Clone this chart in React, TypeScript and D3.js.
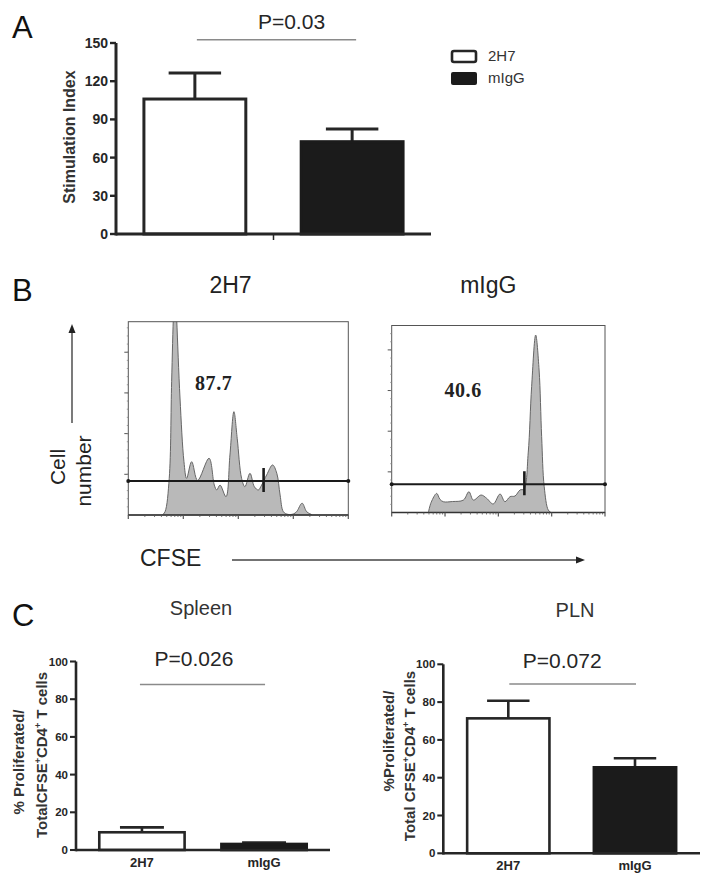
import React from "react";
import * as d3 from "d3";

// ---------- data ----------
const groups = ["2H7", "mIgG"];

// Panel A: stimulation index
const stimMean = [106, 72.5];
const stimSem = [20.5, 10];
const stimTicks = [0, 30, 60, 90, 120, 150];

// Panel C: % proliferated
const spleenMean = [9.4, 3.2];
const spleenSem = [2.6, 0.7];
const plnMean = [71.4, 45.5];
const plnSem = [9.3, 4.8];
const pctTicks = [0, 20, 40, 60, 80, 100];

// Panel B: CFSE histograms (channel 0-100, count in arbitrary units)
const hist2H7X = [15.5, 16.7, 18.6, 19.7, 20.6, 21.3, 22.0, 23.5, 25.3, 26.5, 28.8, 31.5, 36.7, 39.1, 40.2, 41.7, 44.4, 46.2, 48.0, 49.5, 51.5, 53.0, 55.3, 57.3, 59.1, 60.6, 62.9, 65.6, 67.5, 69.0, 70.5, 72.6, 75.0, 76.5, 79.0, 81.1, 83.4];
const hist2H7Y = [0, 1.6, 18.0, 65.5, 100, 112, 96, 57.5, 26.2, 18.0, 26.2, 17.0, 27.9, 14.7, 12.3, 14.7, 9.0, 29.5, 50.8, 37.7, 18.0, 13.9, 20.5, 13.9, 12.3, 14.7, 19.7, 24.6, 20.5, 9.8, 1.6, 0.3, 0.5, 1.6, 5.8, 1.6, 0.2];
const histMIgGX = [17.2, 18.5, 21.1, 22.6, 24.2, 28.5, 33.6, 36.2, 38.3, 41.9, 44.5, 47.6, 50.8, 53.1, 55.5, 57.8, 60.2, 62.0, 64.0, 65.6, 67.5, 69.1, 70.3, 71.5, 73.4, 74.7];
const histMIgGY = [0, 5, 9.4, 6.5, 5.3, 5.4, 6.1, 10.2, 6.1, 8.6, 7.0, 4.2, 9.1, 5.3, 7.8, 8.1, 11.1, 11.5, 29.3, 61.9, 87.3, 70.1, 37.3, 12.7, 1.2, 0];
const histYTicks = [20, 40, 60, 80];
const gateLevels = [16.7, 13.9];
const gateMarkers = [61.5, 62.2];
const gateLabels = ["87.7", "40.6"];

const pValues = ["P=0.03", "P=0.026", "P=0.072"];

// ---------- style ----------
const FONT = '"Liberation Sans", Arial, Helvetica, sans-serif';
const SERIF = '"Liberation Serif", "Times New Roman", serif';
const INK = "#262626";
const BLACK = "#1b1b1b";
const PLINE = "#8a8a8a";

type BarProps = {
  means: number[];
  sems: number[];
  ticks: number[];
  xRange: [number, number];
  yRange: [number, number];
  pi: number;
  po: number;
  sw: number;
  tickFont: number;
  xLabels: boolean;
  midTick: boolean;
  pText: string;
  pLineVal: number;
  pTextVal: number;
  pTextDx: number;
  pLineDx: [number, number];
};

function BarChart(p: BarProps) {
  const x = d3.scaleBand<string>().domain(groups).range(p.xRange).paddingInner(p.pi).paddingOuter(p.po);
  const yMax = p.ticks[p.ticks.length - 1];
  const y = d3.scaleLinear().domain([0, yMax]).range(p.yRange);
  const bw = x.bandwidth();
  const ax = p.xRange[0];
  const c0 = (x(groups[0]) as number) + bw / 2;
  const c1 = (x(groups[1]) as number) + bw / 2;
  return (
    <g>
      {groups.map((g, i) => {
        const bx = x(g) as number;
        const top = y(p.means[i]);
        const eTop = y(p.means[i] + p.sems[i]);
        const cx = bx + bw / 2;
        return (
          <g key={g}>
            <line x1={cx} x2={cx} y1={top} y2={eTop} stroke={INK} strokeWidth={p.sw} />
            <line x1={cx - bw * 0.25} x2={cx + bw * 0.25} y1={eTop} y2={eTop} stroke={INK} strokeWidth={p.sw} />
            <rect
              x={bx + p.sw / 2}
              y={top}
              width={bw - p.sw}
              height={y(0) - top}
              fill={i === 0 ? "#fff" : BLACK}
              stroke={i === 0 ? INK : BLACK}
              strokeWidth={p.sw}
            />
          </g>
        );
      })}
      <line x1={ax} x2={ax} y1={y(0) + p.sw / 2} y2={y(yMax)} stroke={INK} strokeWidth={p.sw} />
      <line x1={ax} x2={p.xRange[1]} y1={y(0)} y2={y(0)} stroke={INK} strokeWidth={p.sw} />
      {p.ticks.map((t) => (
        <g key={t}>
          <line x1={ax - 6} x2={ax} y1={y(t)} y2={y(t)} stroke={INK} strokeWidth={p.sw * 0.8} />
          <text
            x={ax - 8}
            y={y(t)}
            dy="0.36em"
            textAnchor="end"
            fontSize={p.tickFont}
            fontWeight="bold"
            fill={INK}
          >
            {t}
          </text>
        </g>
      ))}
      {p.midTick && (
        <line x1={(c0 + c1) / 2} x2={(c0 + c1) / 2} y1={y(0)} y2={y(0) + 6} stroke={INK} strokeWidth={1.5} />
      )}
      {p.xLabels &&
        groups.map((g) => (
          <text
            key={g}
            x={(x(g) as number) + bw / 2}
            y={y(0) + 17}
            textAnchor="middle"
            fontSize={13}
            fontWeight="bold"
            fill={INK}
          >
            {g}
          </text>
        ))}
      <line
        x1={c0 + p.pLineDx[0]}
        x2={c1 + p.pLineDx[1]}
        y1={y(p.pLineVal)}
        y2={y(p.pLineVal)}
        stroke={PLINE}
        strokeWidth={1.6}
      />
      <text x={(c0 + c1) / 2 + p.pTextDx} y={y(p.pTextVal)} textAnchor="middle" fontSize={21} fill={INK}>
        {p.pText}
      </text>
    </g>
  );
}

type HistProps = {
  box: [number, number, number, number]; // x0, x1, yTop, yBottom
  xs: number[];
  ys: number[];
  yMax: number;
  gate: number;
  marker: number;
  label: string;
  labelPos: [number, number];
  id: string;
};

function Histogram(h: HistProps) {
  const [x0, x1, yt, yb] = h.box;
  const x = d3.scaleLinear().domain([0, 100]).range([x0, x1]);
  const y = d3.scaleLinear().domain([0, h.yMax]).range([yb, yt]);
  const logX = d3.scaleLog().domain([1, 1e4]).range([x0, x1]);
  const pts: [number, number][] = h.xs.map((v, i) => [v, h.ys[i]]);
  const area = d3
    .area<[number, number]>()
    .x((d) => x(d[0]))
    .y0(yb)
    .y1((d) => y(d[1]))
    .curve(d3.curveCatmullRom.alpha(0.5));
  const line = d3
    .line<[number, number]>()
    .x((d) => x(d[0]))
    .y((d) => y(d[1]))
    .curve(d3.curveCatmullRom.alpha(0.5));
  const logTicks = logX.ticks();
  const minorY = d3.range(4, h.yMax, 4);
  const gy = y(h.gate);
  return (
    <g>
      <defs>
        <clipPath id={h.id}>
          <rect x={x0} y={yt} width={x1 - x0} height={yb - yt} />
        </clipPath>
      </defs>
      <g clipPath={`url(#${h.id})`}>
        <path d={area(pts) as string} fill="#b9b9b9" />
        <path d={line(pts) as string} fill="none" stroke="#666" strokeWidth={1} />
      </g>
      <rect x={x0} y={yt} width={x1 - x0} height={yb - yt} fill="none" stroke="#555" strokeWidth={1} />
      <line x1={x0} x2={x1} y1={yb} y2={yb} stroke="#333" strokeWidth={1.4} />
      {histYTicks.map((t) => (
        <line key={t} x1={x0 - 4} x2={x0} y1={y(t)} y2={y(t)} stroke="#555" strokeWidth={1} />
      ))}
      {minorY.map((t) => (
        <line key={"m" + t} x1={x0 - 1.5} x2={x0} y1={y(t)} y2={y(t)} stroke="#888" strokeWidth={0.8} />
      ))}
      {logTicks.map((t, i) => {
        const major = Math.abs(Math.log10(t) - Math.round(Math.log10(t))) < 1e-9;
        return (
          <line
            key={i}
            x1={logX(t)}
            x2={logX(t)}
            y1={yb}
            y2={yb + (major ? 4 : 2)}
            stroke="#555"
            strokeWidth={major ? 1.2 : 0.8}
          />
        );
      })}
      <line x1={x0} x2={x1} y1={gy} y2={gy} stroke="#1a1a1a" strokeWidth={2} />
      <circle cx={x0} cy={gy} r={2} fill="#1a1a1a" />
      <circle cx={x1} cy={gy} r={2} fill="#1a1a1a" />
      <line x1={x(h.marker)} x2={x(h.marker)} y1={gy - 13} y2={gy + 11} stroke="#1a1a1a" strokeWidth={2.6} />
      <text
        x={x(h.labelPos[0])}
        y={y(h.labelPos[1])}
        fontFamily={SERIF}
        fontWeight="bold"
        fontSize={20}
        letterSpacing={0.6}
        fill="#222"
      >
        {h.label}
      </text>
    </g>
  );
}

function Sup({ children }: { children: React.ReactNode }) {
  return (
    <tspan fontSize="0.6em" dy="-0.6em">
      {children}
    </tspan>
  );
}

export default function App() {
  return (
    <svg
      width={714}
      height={887}
      style={{ position: "absolute", left: 0, top: 0, display: "block" }}
      fontFamily={FONT}
    >
      <rect width={714} height={887} fill="#fff" />

      {/* ---------- Panel A ---------- */}
      <text x={12} y={38} fontSize={31} fill="#111">A</text>
      <BarChart
        means={stimMean}
        sems={stimSem}
        ticks={stimTicks}
        xRange={[116, 431]}
        yRange={[234, 43]}
        pi={0.333}
        po={0.168}
        sw={3}
        tickFont={14}
        xLabels={false}
        midTick={true}
        pText={pValues[0]}
        pLineVal={152.5}
        pTextVal={161}
        pTextDx={18}
        pLineDx={[2, 4]}
      />
      <text
        transform="translate(75,137) rotate(-90)"
        textAnchor="middle"
        fontSize={16}
        fontWeight="bold"
        fill="#333"
      >
        Stimulation Index
      </text>
      {/* legend */}
      <rect x={452} y={51} width={24} height={11} rx={2} fill="#fff" stroke={INK} strokeWidth={2.6} />
      <rect x={451} y={72} width={26} height={13} rx={2} fill={BLACK} />
      <text x={488} y={61} fontSize={15} fill="#333">2H7</text>
      <text x={488} y={83} fontSize={15} fill="#333">mIgG</text>

      {/* ---------- Panel B ---------- */}
      <text x={12} y={301} fontSize={31} fill="#111">B</text>
      <text x={230.5} y={293.3} textAnchor="middle" fontSize={23} fill="#222">{groups[0]}</text>
      <text x={488.3} y={293.3} textAnchor="middle" fontSize={23} fill="#222">{groups[1]}</text>
      <Histogram
        id="clipA"
        box={[128.3, 348.3, 321.7, 515]}
        xs={hist2H7X}
        ys={hist2H7Y}
        yMax={95}
        gate={gateLevels[0]}
        marker={gateMarkers[0]}
        label={gateLabels[0]}
        labelPos={[30.3, 61.4]}
      />
      <Histogram
        id="clipB"
        box={[391.7, 605, 325.5, 512.5]}
        xs={histMIgGX}
        ys={histMIgGY}
        yMax={92}
        gate={gateLevels[1]}
        marker={gateMarkers[1]}
        label={gateLabels[1]}
        labelPos={[24.7, 57]}
      />
      {/* Cell number arrow */}
      <line x1={72} x2={72} y1={423} y2={330} stroke="#333" strokeWidth={1.3} />
      <polygon points="72,324 68.5,333 75.5,333" fill="#222" />
      <text transform="translate(65,467) rotate(-90)" textAnchor="middle" fontSize={21} fill="#222">Cell</text>
      <text transform="translate(91,471) rotate(-90)" textAnchor="middle" fontSize={21} fill="#222">number</text>
      {/* CFSE arrow */}
      <text x={140} y={566} fontSize={23} fill="#222">CFSE</text>
      <line x1={232} x2={578} y1={560} y2={560} stroke="#444" strokeWidth={1.3} />
      <polygon points="585,560 576,556.5 576,563.5" fill="#222" />

      {/* ---------- Panel C ---------- */}
      <text x={12} y={626} fontSize={31} fill="#111">C</text>
      <text x={201} y={615} textAnchor="middle" fontSize={20} fill="#333">Spleen</text>
      <text x={575} y={617} textAnchor="middle" fontSize={20} fill="#333">PLN</text>
      <BarChart
        means={spleenMean}
        sems={spleenSem}
        ticks={pctTicks}
        xRange={[76, 330]}
        yRange={[850, 661.5]}
        pi={0.28}
        po={0.18}
        sw={2.6}
        tickFont={11.5}
        xLabels={true}
        midTick={false}
        pText={pValues[1]}
        pLineVal={87.8}
        pTextVal={97.4}
        pTextDx={-9}
        pLineDx={[-2, 1]}
      />
      <BarChart
        means={plnMean}
        sems={plnSem}
        ticks={pctTicks}
        xRange={[443.3, 700]}
        yRange={[853.3, 664.3]}
        pi={0.33}
        po={0.178}
        sw={2.6}
        tickFont={11.5}
        xLabels={true}
        midTick={false}
        pText={pValues[2]}
        pLineVal={89.6}
        pTextVal={98.2}
        pTextDx={-9.5}
        pLineDx={[1, 1]}
      />
      {/* Spleen y label */}
      <text transform="translate(24,762) rotate(-90)" textAnchor="middle" fontSize={15} fontWeight="bold" fill="#333">
        % Proliferated/
      </text>
      <text transform="translate(46.5,755) rotate(-90)" textAnchor="middle" fontSize={15} fontWeight="bold" fill="#333">
        TotalCFSE<Sup>+</Sup><tspan dy="0.36em">CD4</tspan><Sup>+</Sup><tspan dy="0.36em"> T cells</tspan>
      </text>
      {/* PLN y label */}
      <text transform="translate(394,741) rotate(-90)" textAnchor="middle" fontSize={15} fontWeight="bold" fill="#333">
        %Proliferated/
      </text>
      <text transform="translate(414.5,756) rotate(-90)" textAnchor="middle" fontSize={15} fontWeight="bold" fill="#333">
        Total CFSE<Sup>+</Sup><tspan dy="0.36em">CD4</tspan><Sup>+</Sup><tspan dy="0.36em"> T cells</tspan>
      </text>
    </svg>
  );
}
